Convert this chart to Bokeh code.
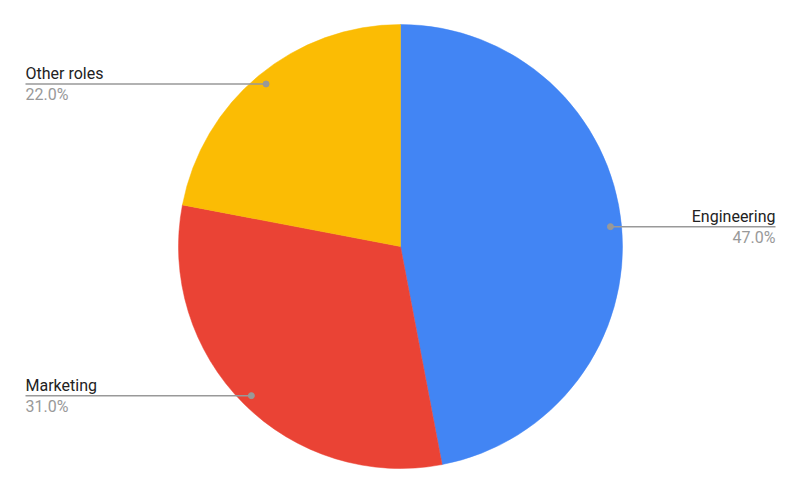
import math
from bokeh.plotting import figure
from bokeh.models import Range1d, ColumnDataSource
from bokeh.core.properties import value
from bokeh.embed import file_html
from bokeh.resources import INLINE

categories = ["Engineering", "Marketing", "Other roles"]
shares = [47.0, 31.0, 22.0]
colors = ["#4285F4", "#EA4335", "#FBBC04"]

W, H = 784, 478
p = figure(width=W, height=H, output_backend="svg", toolbar_location=None,
           x_range=Range1d(0, W), y_range=Range1d(494 - H, 494),
           min_border=0, min_border_left=0, min_border_right=0,
           min_border_top=0, min_border_bottom=0)
p.axis.visible = False
p.grid.visible = False
p.outline_line_color = None
p.background_fill_color = "white"
p.border_fill_color = "white"

cx, cy, R = 400, 494 - 246, 222
total = sum(shares)
starts, ends, mids = [], [], []
acc = 0.0
for s in shares:
    a0 = acc / total * 2 * math.pi
    acc += s
    a1 = acc / total * 2 * math.pi
    starts.append(math.pi / 2 - a0)
    ends.append(math.pi / 2 - a1)
    mids.append((a0 + a1) / 2)

src = ColumnDataSource(dict(start=starts, end=ends, color=colors))
p.wedge(x=cx, y=cy, radius=R, start_angle="start", end_angle="end",
        direction="clock", fill_color="color", line_color="color",
        line_width=0.5, source=src)

for cat, s, m in zip(categories, shares, mids):
    px = cx + 0.95 * R * math.sin(m)
    py = cy + 0.95 * R * math.cos(m)
    right = math.sin(m) > 0
    x_end = 775 if right else 25
    p.line([px, x_end], [py, py], line_color="#999999", line_width=1.5)
    p.scatter([px], [py], size=6, color="#999999")
    align = "right" if right else "left"
    p.text([x_end], [py + 10], text=[cat], text_align=align,
           text_baseline="alphabetic", text_font=value("Roboto"),
           text_font_size="16px", text_color="#222222")
    p.text([x_end], [py - 1], text=["%.1f%%" % s], text_align=align,
           text_baseline="top", text_font=value("Roboto"),
           text_font_size="16px", text_color="#999999")

open("out.html", "w").write(file_html(p, INLINE))
